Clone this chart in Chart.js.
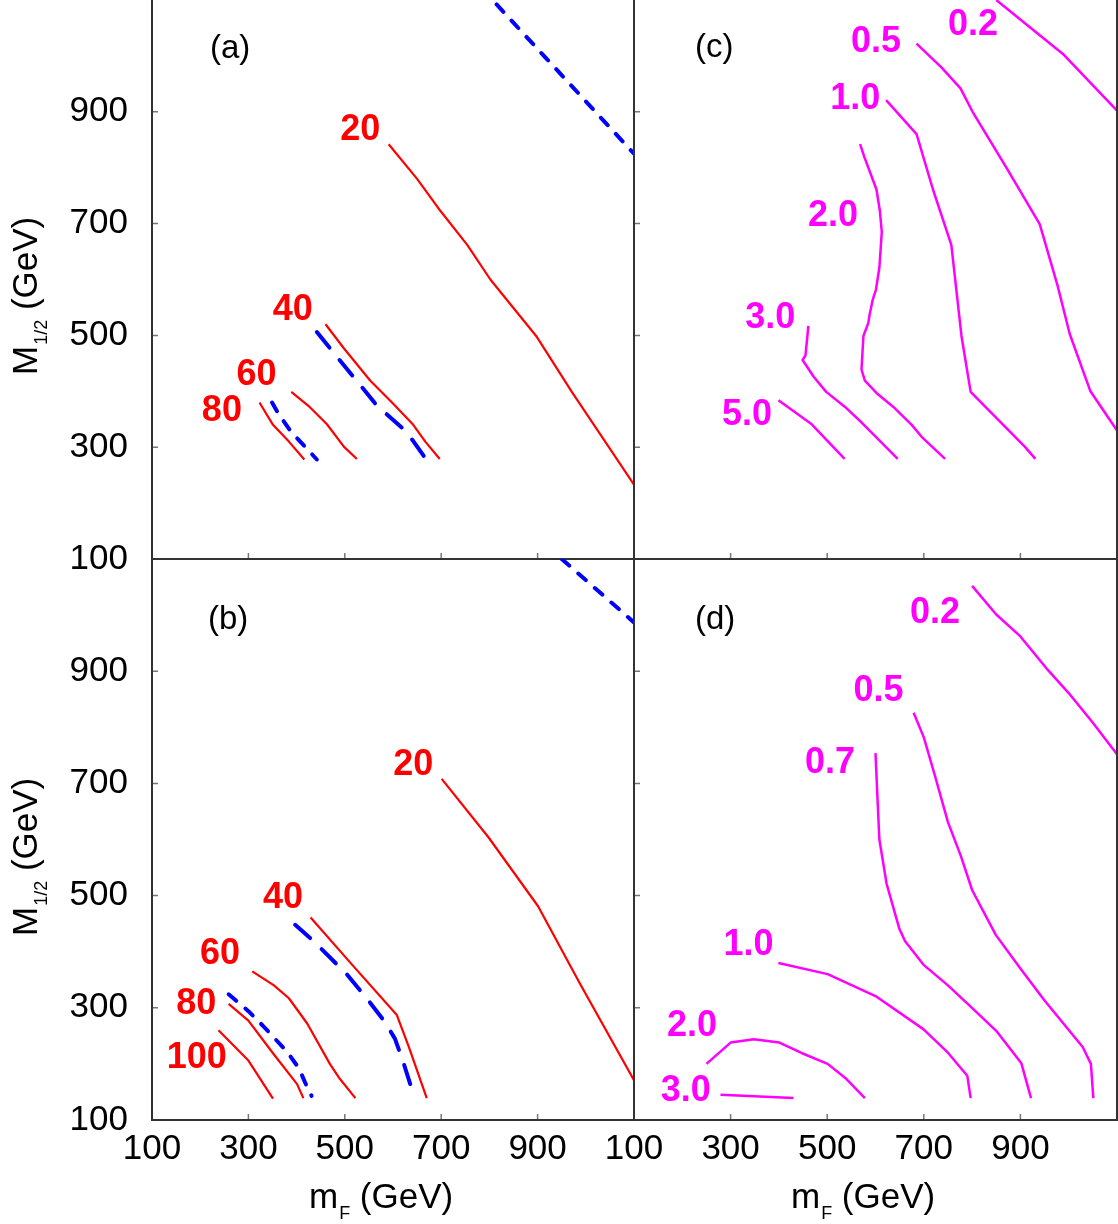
<!DOCTYPE html>
<html>
<head>
<meta charset="utf-8">
<script src="https://cdn.jsdelivr.net/npm/chart.js@4.4.1/dist/chart.umd.min.js"></script>
<style>
  html, body { margin: 0; padding: 0; background: #fff; }
  #wrap { position: relative; width: 1118px; height: 1224px; overflow: hidden; }
  #wrap canvas { position: absolute; left: 0; top: 0; }
</style>
</head>
<body>
<div id="wrap">
  <canvas id="chartA" width="1118" height="1224"></canvas>
  <canvas id="chartB" width="1118" height="1224"></canvas>
  <canvas id="chartC" width="1118" height="1224"></canvas>
  <canvas id="chartD" width="1118" height="1224"></canvas>
</div>
<script>
// Axis range and the tick values that get a number
const axisMin = 100;
const axisMax = 1100;
const tickLabels = [100, 300, 500, 700, 900];

// Panel (a): [m_F, M_1/2] points in GeV
const aRed20 = [[591,842],[650,780],[699,722],[754,662],[802,600],[897,499],[971,399],[1100,233]];
const aRed40 = [[460,520],[498,477],[553,419],[600,378],[642,340],[667,310],[697,279]];
const aRed60 = [[389,399],[427,372],[463,341],[498,301],[525,279]];
const aRed80 = [[323,380],[351,340],[384,310],[416,278]];
const aBlueLong = [[442,506],[490,455],[536,407],[566,375],[621,333],[642,311],[669,278]];
const aBlueShort = [[349,380],[363,359],[389,327],[414,304],[442,278]];
const aBlueEdge = [[815,1092],[1100,825]];
const aLabelText = ['20', '40', '60', '80'];
const aLabelX = [532, 392, 317, 245];
const aLabelY = [867, 546, 429, 365];

// Panel (b)
const bRed20 = [[701,708],[798,604],[901,481],[988,343],[1100,171]];
const bRed40 = [[429,461],[515,377],[608,287],[633,230],[670,139]];
const bRed60 = [[308,365],[353,340],[384,317],[422,272],[469,200],[490,173],[522,139]];
const bRed80 = [[259,307],[300,277],[351,219],[401,164],[414,139]];
const bRed100 = [[238,260],[300,206],[351,138]];
const bBlueLong = [[397,448],[435,419],[505,359],[549,313],[583,275],[604,245],[621,204],[638,158]];
const bBlueShort = [[259,324],[300,294],[330,268],[380,222],[405,192],[418,166],[431,143]];
const bBlueEdge = [[950,1100],[1100,987]];
const bLabelText = ['20', '40', '60', '80', '100'];
const bLabelX = [642, 372, 241, 192, 193];
const bLabelY = [733, 495, 396, 306, 211];

// Panel (c)
const c02 = [[850,1100],[990,1002],[1100,902]];
const c05 = [[685,1022],[737,979],[776,942],[801,900],[871,800],[940,699],[977,589],[1002,503],[1045,400],[1100,330]];
const c10 = [[622,921],[685,860],[719,761],[757,662],[778,499],[797,399],[909,301],[931,279]];
const c20 = [[568,842],[577,819],[602,761],[609,723],[613,685],[608,621],[601,582],[594,563],[588,538],[585,522],
             [575,499],[571,439],[578,419],[602,397],[637,372],[675,340],[695,319],[744,279]];
const c30 = [[461,517],[455,464],[449,456],[472,426],[498,399],[537,372],[575,341],[646,279]];
const c50 = [[399,384],[468,341],[536,279]];
const cLabelText = ['0.2', '0.5', '1.0', '2.0', '3.0', '5.0'];
const cLabelX = [802, 601, 558, 512, 382, 334];
const cLabelY = [1055, 1025, 922, 713, 531, 357];

// Panel (d)
const d02 = [[800,1052],[850,1001],[900,962],[953,906],[1000,861],[1050,808],[1100,752]];
const d05 = [[679,826],[700,782],[723,714],[750,631],[777,570],[800,510],[849,430],[900,370],[950,313],[1029,230],[1046,200],[1051,139]];
const d07 = [[600,754],[604,676],[608,600],[623,521],[649,442],[661,419],[699,377],[750,340],[802,298],[850,259],[902,201],[922,139]];
const d10 = [[399,380],[501,360],[600,321],[699,262],[750,220],[790,179],[797,139]];
const d20 = [[250,200],[300,238],[348,244],[401,238],[448,219],[501,200],[540,173],[578,139]];
const d30 = [[279,145],[430,139]];
const dLabelText = ['0.2', '0.5', '0.7', '1.0', '2.0', '3.0'];
const dLabelX = [723, 606, 506, 337, 220, 207];
const dLabelY = [1003, 865, 736, 411, 268, 151];

const FONT = "'Liberation Sans', Arial, Helvetica, sans-serif";
const RED = '#ff0000';
const MAGENTA = '#ff00ff';
const BLUE = '#0000ff';

const lineStyles = {
  red: { borderColor: RED, borderWidth: 2.2 },
  magenta: { borderColor: MAGENTA, borderWidth: 2.5 },
  blueShort: { borderColor: BLUE, borderWidth: 4, borderDash: [10, 12], borderCapStyle: 'round' },
  blueLong: { borderColor: BLUE, borderWidth: 4, borderDash: [20, 16], borderCapStyle: 'round' },
};

function makeSet(points, style) {
  return Object.assign({
    data: points.map(p => ({ x: p[0], y: p[1] })),
    pointRadius: 0,
    tension: 0,
    fill: false,
    borderJoinStyle: 'round',
  }, lineStyles[style]);
}

// left, bottom, right frame plus short inward ticks
const framePlugin = {
  id: 'frame',
  afterDatasetsDraw(chart) {
    const { ctx, chartArea: a, scales: { x, y } } = chart;
    ctx.save();
    ctx.strokeStyle = '#777';
    ctx.lineWidth = 1.5;
    ctx.beginPath();
    x.ticks.forEach(t => {
      const px = x.getPixelForValue(t.value);
      ctx.moveTo(px, a.bottom);
      ctx.lineTo(px, a.bottom - 6);
    });
    y.ticks.forEach(t => {
      const py = y.getPixelForValue(t.value);
      ctx.moveTo(a.left, py);
      ctx.lineTo(a.left + 6, py);
    });
    ctx.stroke();
    ctx.strokeStyle = '#333';
    ctx.lineWidth = 2;
    ctx.beginPath();
    ctx.moveTo(a.left, a.top);
    ctx.lineTo(a.left, a.bottom);
    ctx.lineTo(a.right, a.bottom);
    ctx.lineTo(a.right, a.top);
    ctx.stroke();
    ctx.restore();
  }
};

// contour values, panel tag and axis titles
function makeTextPlugin(p) {
  return {
    id: 'text' + p.tag,
    afterDatasetsDraw(chart) {
      const { ctx, chartArea: a, scales: { x, y } } = chart;
      ctx.save();
      ctx.textAlign = 'center';
      ctx.textBaseline = 'middle';
      ctx.fillStyle = p.color;
      ctx.font = 'bold 36px ' + FONT;
      p.texts.forEach((t, i) => {
        ctx.fillText(t, x.getPixelForValue(p.xs[i]), y.getPixelForValue(p.ys[i]));
      });
      ctx.fillStyle = '#000';
      ctx.font = '33px ' + FONT;
      ctx.fillText(p.tag, x.getPixelForValue(p.tagX), y.getPixelForValue(p.tagY));

      ctx.textAlign = 'left';
      ctx.textBaseline = 'alphabetic';
      if (p.showY) {
        ctx.save();
        ctx.translate(37, a.bottom - 184);
        ctx.rotate(-Math.PI / 2);
        ctx.font = '35px ' + FONT;
        ctx.fillText('M', 0, 0);
        let w = ctx.measureText('M').width;
        ctx.font = '18px ' + FONT;
        ctx.fillText('1/2', w + 1, 10);
        w += ctx.measureText('1/2').width + 1;
        ctx.font = '35px ' + FONT;
        ctx.fillText(' (GeV)', w, 0);
        ctx.restore();
      }
      if (p.showX) {
        const x0 = a.left + 157;
        const by = 1208;
        ctx.font = '35px ' + FONT;
        ctx.fillText('m', x0, by);
        let w = ctx.measureText('m').width;
        ctx.font = '18px ' + FONT;
        ctx.fillText('F', x0 + w + 1, by + 11);
        w += ctx.measureText('F').width + 1;
        ctx.font = '35px ' + FONT;
        ctx.fillText(' (GeV)', x0 + w, by);
      }
      ctx.restore();
    }
  };
}

const PAGE_W = 1118;
const PAGE_H = 1224;

const panels = [
  { canvas: 'chartA', tag: '(a)', tagX: 262, tagY: 1012, left: 152, top: 0, right: 634, bottom: 559,
    showY: true, showX: false, color: RED, texts: aLabelText, xs: aLabelX, ys: aLabelY,
    sets: [makeSet(aRed20, 'red'), makeSet(aRed40, 'red'), makeSet(aRed60, 'red'), makeSet(aRed80, 'red'),
           makeSet(aBlueLong, 'blueLong'), makeSet(aBlueShort, 'blueShort'), makeSet(aBlueEdge, 'blueShort')] },
  { canvas: 'chartB', tag: '(b)', tagX: 258, tagY: 992, left: 152, top: 559, right: 634, bottom: 1120,
    showY: true, showX: true, color: RED, texts: bLabelText, xs: bLabelX, ys: bLabelY,
    sets: [makeSet(bRed20, 'red'), makeSet(bRed40, 'red'), makeSet(bRed60, 'red'), makeSet(bRed80, 'red'),
           makeSet(bRed100, 'red'), makeSet(bBlueLong, 'blueLong'), makeSet(bBlueShort, 'blueShort'),
           makeSet(bBlueEdge, 'blueShort')] },
  { canvas: 'chartC', tag: '(c)', tagX: 266, tagY: 1014, left: 634, top: 0, right: 1117, bottom: 559,
    showY: false, showX: false, color: MAGENTA, texts: cLabelText, xs: cLabelX, ys: cLabelY,
    sets: [makeSet(c02, 'magenta'), makeSet(c05, 'magenta'), makeSet(c10, 'magenta'), makeSet(c20, 'magenta'),
           makeSet(c30, 'magenta'), makeSet(c50, 'magenta')] },
  { canvas: 'chartD', tag: '(d)', tagX: 268, tagY: 992, left: 634, top: 559, right: 1117, bottom: 1120,
    showY: false, showX: true, color: MAGENTA, texts: dLabelText, xs: dLabelX, ys: dLabelY,
    sets: [makeSet(d02, 'magenta'), makeSet(d05, 'magenta'), makeSet(d07, 'magenta'), makeSet(d10, 'magenta'),
           makeSet(d20, 'magenta'), makeSet(d30, 'magenta')] },
];

function tickCallback(value) {
  return tickLabels.includes(value) ? String(value) : null;
}

panels.forEach(p => {
  const yWidth = p.showY ? p.left : 0;
  const xHeight = p.showX ? 60 : 0;
  new Chart(document.getElementById(p.canvas), {
    type: 'line',
    data: { datasets: p.sets },
    options: {
      responsive: false,
      animation: false,
      events: [],
      layout: {
        padding: {
          left: p.left - yWidth,
          top: p.top,
          right: PAGE_W - p.right,
          bottom: PAGE_H - p.bottom - xHeight,
        }
      },
      scales: {
        x: {
          type: 'linear',
          min: axisMin,
          max: axisMax,
          grid: { display: false, drawTicks: false },
          border: { display: false },
          ticks: {
            display: p.showX,
            stepSize: 100,
            autoSkip: false,
            maxRotation: 0,
            padding: 8,
            color: '#000',
            font: { family: FONT, size: 35 },
            callback: tickCallback,
          },
          afterFit(s) {
            s.height = xHeight;
            s.paddingLeft = 0;
            s.paddingRight = 0;
          },
        },
        y: {
          type: 'linear',
          min: axisMin,
          max: axisMax,
          grid: { display: false, drawTicks: false },
          border: { display: false },
          ticks: {
            display: p.showY,
            stepSize: 100,
            autoSkip: false,
            padding: 24,
            color: '#000',
            font: { family: FONT, size: 35 },
            callback: tickCallback,
          },
          afterFit(s) {
            s.width = yWidth;
            s.paddingTop = 0;
            s.paddingBottom = 0;
          },
        },
      },
      plugins: {
        legend: { display: false },
        tooltip: { enabled: false },
      },
    },
    plugins: [framePlugin, makeTextPlugin(p)],
  });
});
</script>
</body>
</html>
